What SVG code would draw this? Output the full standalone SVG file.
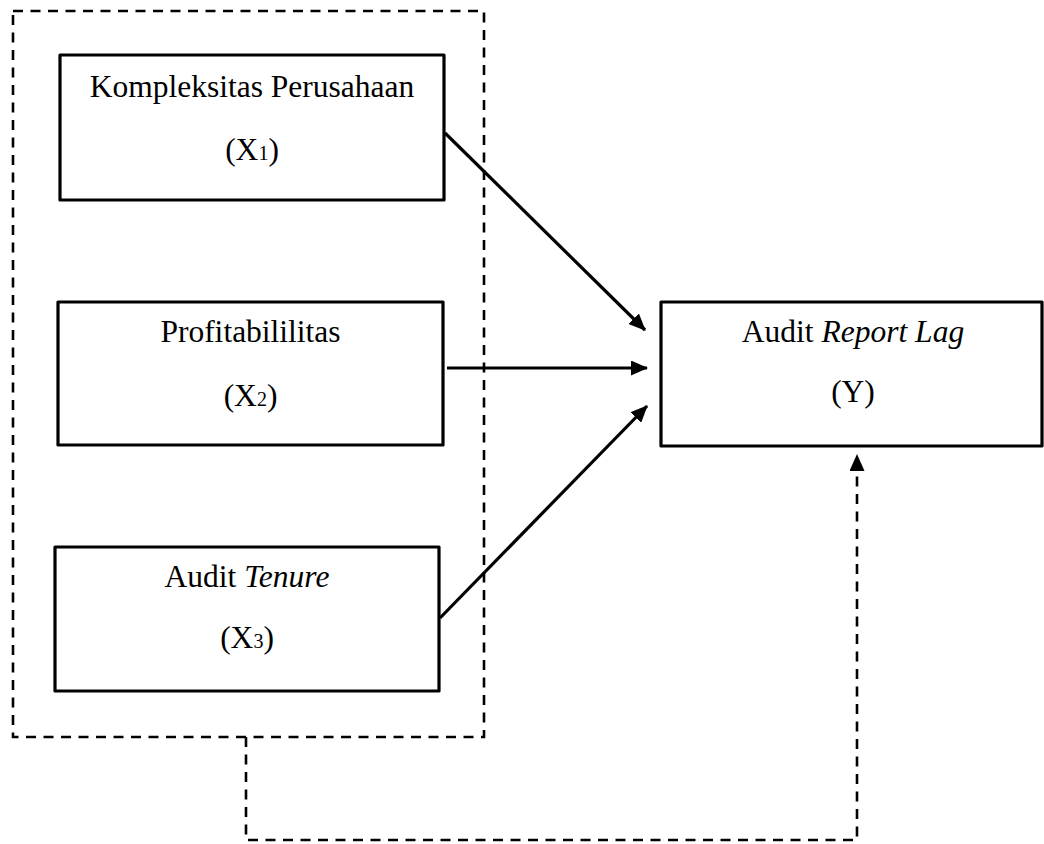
<svg xmlns="http://www.w3.org/2000/svg" width="1044" height="844" viewBox="0 0 1044 844">
<style>
.box{fill:#fff;stroke:#000;stroke-width:3.2;stroke-linejoin:round}
.t{font-family:"Liberation Serif","Times New Roman",serif;font-size:31.5px;fill:#000;text-anchor:middle}
.i{font-style:italic}
.sub{font-size:20px}
.dash{fill:none;stroke:#000;stroke-width:2.6;stroke-dasharray:10 7.5}
.arr{fill:none;stroke:#000;stroke-width:3.2}
</style>
<defs>
<marker id="ah" markerWidth="17" markerHeight="15" refX="16" refY="7.5" orient="auto" markerUnits="userSpaceOnUse">
<path d="M0,0 L17,7.5 L0,15 Z" fill="#000"/>
</marker>
</defs>
<g id="group-x">
<rect x="13" y="11" width="471" height="726" class="dash"/>
</g>
<g id="node-x1">
<rect x="60" y="55" width="384" height="145" class="box"/>
<text x="252" y="97" class="t">Kompleksitas Perusahaan</text>
<text x="252" y="160" class="t">(X<tspan class="sub">1</tspan>)</text>
</g>
<g id="node-x2">
<rect x="58" y="302" width="385" height="143" class="box"/>
<text x="250.5" y="342" class="t">Profitabililitas</text>
<text x="250.5" y="406" class="t">(X<tspan class="sub">2</tspan>)</text>
</g>
<g id="node-x3">
<rect x="55" y="547" width="384" height="144" class="box"/>
<text x="247" y="587" class="t">Audit <tspan class="i">Tenure</tspan></text>
<text x="247" y="648" class="t">(X<tspan class="sub">3</tspan>)</text>
</g>
<g id="node-y">
<rect x="661" y="302" width="381" height="144" class="box"/>
<text x="853" y="342" class="t">Audit <tspan class="i">Report Lag</tspan></text>
<text x="853" y="402" class="t">(Y)</text>
</g>
<g id="connectors">
<line x1="445" y1="133" x2="645" y2="330" class="arr" marker-end="url(#ah)"/>
<line x1="447" y1="368" x2="647" y2="368" class="arr" marker-end="url(#ah)"/>
<line x1="440" y1="618" x2="647" y2="406" class="arr" marker-end="url(#ah)"/>
<path d="M246,737 L246,840 L857,840 L857,455" class="dash" marker-end="url(#ah)"/>
</g>
</svg>
